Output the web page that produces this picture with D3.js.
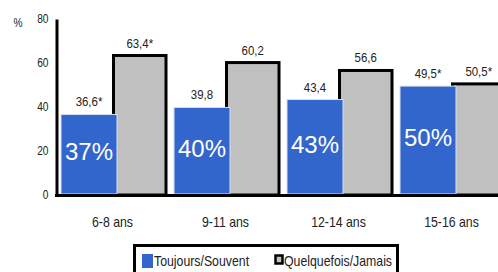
<!DOCTYPE html>
<html>
<head>
<meta charset="utf-8">
<script src="https://cdn.jsdelivr.net/npm/d3@7"></script>
<style>
  body { margin: 0; background: #fff; }
  svg { display: block; }
</style>
</head>
<body>
<div id="chart"></div>
<script>
var categories = ["6-8 ans", "9-11 ans", "12-14 ans", "15-16 ans"];
var series = ["Toujours/Souvent", "Quelquefois/Jamais"];
var toujours = [36.6, 39.8, 43.4, 49.5];
var quelquefois = [63.4, 60.2, 56.6, 50.5];
var toujoursStar = [true, false, false, true];
var quelquefoisStar = [true, false, false, true];
var yTicks = [0, 20, 40, 60, 80];

var width = 498, height = 272;
var blue = "#3366cc", grey = "#c0c0c0";
var sans = "'Liberation Sans', Arial, sans-serif";

var svg = d3.select("#chart").append("svg")
    .attr("width", width)
    .attr("height", height)
    .style("background-color", "white");

var y = d3.scaleLinear().domain([0, 80]).range([195, 19]);
var x0 = d3.scaleBand().domain(categories).range([56, 508]);
var x1 = d3.scaleBand().domain(series).range([5, 110]);

var fmt = function(v) { return d3.format(".1f")(v).replace(".", ","); };

// squeeze text horizontally, the original uses a narrow face
function condense(sel, k) {
  sel.each(function() {
    var w = this.getComputedTextLength();
    d3.select(this).attr("textLength", w * k).attr("lengthAdjust", "spacingAndGlyphs");
  });
}

//grey bars with thick black outline
svg.selectAll(".q").data(categories).enter().append("rect")
    .attr("x", function(d) { return x0(d) + x1(series[1]); })
    .attr("y", function(d, i) { return y(quelquefois[i]); })
    .attr("width", x1.bandwidth())
    .attr("height", function(d, i) { return y(0) - y(quelquefois[i]); })
    .attr("fill", grey)
    .attr("stroke", "#000")
    .attr("stroke-width", 3);

//blue bars on top
svg.selectAll(".t").data(categories).enter().append("rect")
    .attr("x", function(d) { return x0(d) + x1(series[0]); })
    .attr("y", function(d, i) { return y(toujours[i]); })
    .attr("width", x1.bandwidth() + 3.5)
    .attr("height", function(d, i) { return y(0) - y(toujours[i]) - 1; })
    .attr("fill", blue)
    .attr("stroke", "#d6e0f5")
    .attr("stroke-width", 1);

//value labels
function valueLabels(vals, stars, key, cls, extra) {
  var t = svg.selectAll("." + cls).data(categories).enter().append("text")
      .attr("class", cls)
      .attr("x", function(d) { return x0(d) + x1(key) + (x1.bandwidth() + extra) / 2; })
      .attr("y", function(d, i) { return y(vals[i]) - 8; })
      .attr("text-anchor", "middle")
      .attr("font-family", sans)
      .attr("font-size", 13)
      .attr("fill", "#222")
      .text(function(d, i) { return fmt(vals[i]) + (stars[i] ? "*" : ""); });
  condense(t, 0.88);
}
valueLabels(toujours, toujoursStar, series[0], "labT", 3.5);
valueLabels(quelquefois, quelquefoisStar, series[1], "labQ", 0);

//big percentages in blue bars
svg.selectAll(".pct").data(categories).enter().append("text")
    .attr("class", "pct")
    .attr("x", function(d) { return x0(d) + x1(series[0]) + (x1.bandwidth() + 3.5) / 2; })
    .attr("y", function(d, i) { return y(toujours[i] / 2) - 3; })
    .attr("dominant-baseline", "central")
    .attr("text-anchor", "middle")
    .attr("font-family", sans)
    .attr("font-size", 24)
    .attr("fill", "#fff")
    .text(function(d, i) { return Math.round(toujours[i]) + "%"; });

//y axis
var yAxis = svg.append("g")
    .attr("transform", "translate(56.5,0)")
    .call(d3.axisLeft(y).tickValues(yTicks).tickSize(0).tickPadding(8).tickFormat(d3.format("d")));
yAxis.select(".domain").attr("stroke", "#000").attr("stroke-width", 3);
yAxis.selectAll("text")
    .attr("font-family", sans)
    .attr("font-size", 12)
    .attr("fill", "#222")
    .call(condense, 0.85);
svg.append("text")
    .attr("x", 18)
    .attr("y", 27)
    .attr("text-anchor", "middle")
    .attr("font-family", sans)
    .attr("font-size", 12)
    .attr("fill", "#222")
    .text("%")
    .call(condense, 0.85);

//x baseline
svg.append("line")
    .attr("x1", 55).attr("x2", width)
    .attr("y1", y(0) + 0.5).attr("y2", y(0) + 0.5)
    .attr("stroke", "#000")
    .attr("stroke-width", 3);

//category labels
svg.selectAll(".cat").data(categories).enter().append("text")
    .attr("class", "cat")
    .attr("x", function(d) { return x0(d) + x0.bandwidth() / 2; })
    .attr("y", 227)
    .attr("text-anchor", "middle")
    .attr("font-family", sans)
    .attr("font-size", 15)
    .attr("fill", "#222")
    .text(function(d) { return d; })
    .call(condense, 0.82);

//legend
var legend = svg.append("g");
legend.append("rect")
    .attr("x", 134.5).attr("y", 245.5)
    .attr("width", 263).attr("height", 40)
    .attr("fill", "#fff")
    .attr("stroke", "#000")
    .attr("stroke-width", 3);
legend.append("rect")
    .attr("x", 142).attr("y", 254)
    .attr("width", 11).attr("height", 14)
    .attr("fill", blue);
legend.append("text")
    .attr("x", 154).attr("y", 266)
    .attr("font-family", sans)
    .attr("font-size", 15)
    .attr("fill", "#222")
    .text(series[0])
    .call(condense, 0.82);
legend.append("rect")
    .attr("x", 275.5).attr("y", 255.5)
    .attr("width", 7).attr("height", 8)
    .attr("fill", grey)
    .attr("stroke", "#000")
    .attr("stroke-width", 2.5);
legend.append("text")
    .attr("x", 284).attr("y", 266)
    .attr("font-family", sans)
    .attr("font-size", 15)
    .attr("fill", "#222")
    .text(series[1])
    .call(condense, 0.82);
</script>
</body>
</html>
